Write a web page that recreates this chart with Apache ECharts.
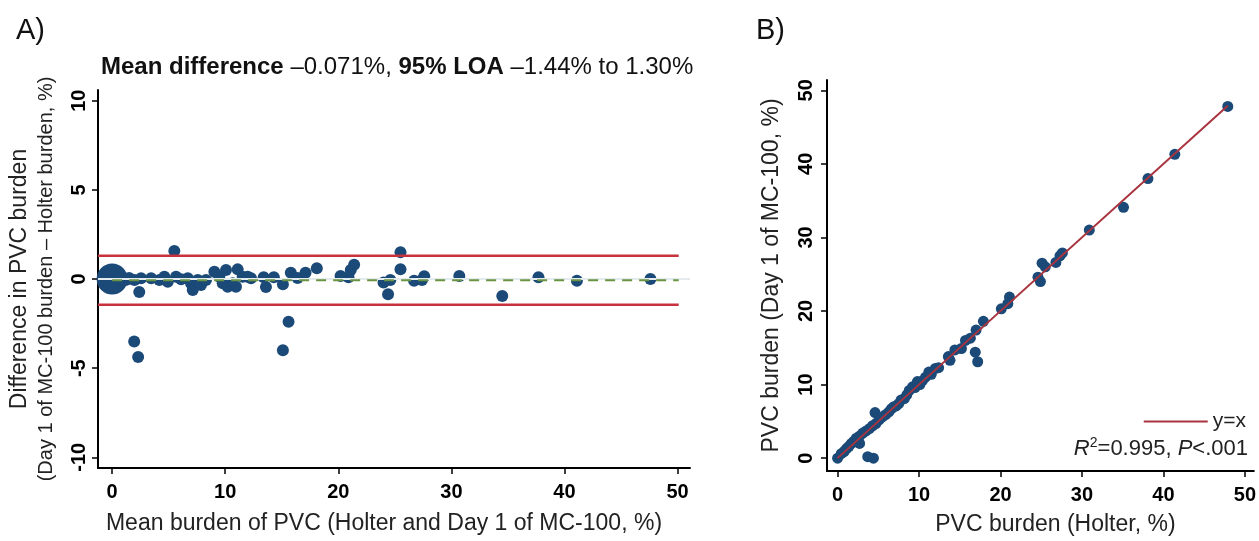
<!DOCTYPE html>
<html>
<head>
<meta charset="utf-8">
<script src="https://cdn.jsdelivr.net/npm/echarts@6/dist/echarts.min.js"></script>
<style>
html, body { margin: 0; padding: 0; background: #fff; }
#chart { width: 1259px; height: 541px; }
</style>
</head>
<body>
<div id="chart"></div>
<script>
// A) Bland-Altman: mean burden vs difference (%)
const baMean = [1.97, 2.56, 3.45, 4.18, 4.62, 4.92, 5.65, 6.1, 6.69, 6.98, 7.13, 7.57, 7.86, 8.3,
  9.04, 9.48, 9.78, 10.07, 10.22, 10.66, 10.95, 11.1, 11.54, 11.99, 12.28, 2.4, 5.5, 1.95, 2.3,
  13.4, 13.6, 14.3, 15.1, 15.1, 15.6, 15.8, 16.4, 17.1, 18.1, 20.2, 20.9, 21.1, 21.4, 24.0, 24.4,
  24.6, 25.5, 25.5, 26.7, 27.4, 27.6, 30.7, 34.5, 37.7, 41.1, 47.6, 0.6, 1.2, 1.5];
const baDiff = [-0.06, 0.04, 0.04, -0.06, 0.13, -0.15, 0.13, -0.02, 0.04, -0.24, -0.62, -0.06, -0.34, -0.06,
  0.41, 0.13, -0.24, 0.5, -0.43, -0.24, -0.43, 0.54, 0.13, 0.13, 0.04, -0.73, 1.57, -3.5, -4.37,
  0.1, -0.45, 0.1, -0.3, -4.0, -2.4, 0.35, 0.05, 0.35, 0.6, 0.17, 0.1, 0.5, 0.8, -0.2, -0.85,
  -0.05, 1.5, 0.55, -0.1, -0.05, 0.15, 0.17, -0.95, 0.1, -0.1, 0.0, 0.05, -0.05, 0.05];
// many patients with zero burden, drawn as one large marker
const zeroPile = [[0, 0]];
const meanDiff = -0.071;
const loaUpper = 1.30;
const loaLower = -1.44;
const loaSpan = [-1.25, 50.1];
const meanSpan = [0, 50.1];
const baXTicks = [0, 10, 20, 30, 40, 50];
const baYTicks = [-10, -5, 0, 5, 10];

// B) Holter vs Day 1 of MC-100 (%)
const holter = [0, 0.45, 0.8, 1.1, 1.4, 1.7, 2.0, 2.3, 2.7, 2.7, 3.1, 3.5, 3.9, 3.7, 4.4, 4.3, 4.7, 4.6,
  5.1, 5.5, 5.9, 6.3, 6.6, 6.9, 7.2, 7.5, 7.8, 8.2, 8.5, 8.8, 9.2, 9.5, 9.8, 10.1, 10.4, 10.8, 11.2,
  11.5, 12.0, 12.4, 13.6, 13.8, 14.4, 15.2, 15.7, 16.3, 16.9, 17.2, 17.0, 17.9, 20.1, 20.9, 21.1,
  24.6, 24.9, 25.1, 25.5, 26.8, 27.3, 27.6, 30.9, 35.1, 38.1, 41.4, 47.9];
const mc100 = [0, 0.6, 0.9, 1.3, 1.6, 2.0, 2.3, 2.7, 2.0, 3.0, 3.4, 3.7, 4.0, 0.2, 0.0, 4.4, 4.7, 6.2,
  5.2, 5.6, 5.9, 6.3, 6.7, 7.0, 7.1, 7.4, 7.9, 8.1, 8.6, 9.2, 9.7, 9.6, 10.4, 10.0, 10.5, 11.0, 11.7,
  11.4, 12.2, 12.3, 13.8, 13.3, 14.7, 14.9, 16.0, 16.3, 14.4, 13.1, 17.4, 18.6, 20.3, 21.0, 21.9,
  24.6, 24.0, 26.5, 26.0, 26.6, 27.5, 27.9, 31.0, 34.1, 38.0, 41.3, 47.8];
const identitySpan = [0, 47.9];
const scTicks = [0, 10, 20, 30, 40, 50];

const font = '"Liberation Sans", Arial, sans-serif';
const dotColor = '#1b4a78';

const baPoints = baMean.map((m, i) => [m, baDiff[i]]);
const scPoints = holter.map((h, i) => [h, mc100[i]]);

const axisLine = { show: true, onZero: false, lineStyle: { color: '#000', width: 2 } };
const tick = (vals) => ({ show: true, customValues: vals, length: 6, lineStyle: { color: '#000', width: 1.5 } });
const label = (vals, extra) => Object.assign({
  customValues: vals, color: '#000', fontSize: 20, fontWeight: 'bold', fontFamily: font
}, extra);

const chart = echarts.init(document.getElementById('chart'));
const option = {
  animation: false,
  textStyle: { fontFamily: font },
  title: [
    { text: 'A)', left: 11, top: 11, textStyle: { fontSize: 29, fontWeight: 'normal', color: '#111', fontFamily: font } },
    { text: 'B)', left: 751, top: 11, textStyle: { fontSize: 29, fontWeight: 'normal', color: '#111', fontFamily: font } },
    {
      text: '{b|Mean difference} –0.071%, {b|95% LOA} –1.44% to 1.30%',
      left: 96, top: 50,
      textStyle: {
        fontSize: 24, fontWeight: 'normal', color: '#111', fontFamily: font,
        rich: { b: { fontSize: 24, fontWeight: 'bold', color: '#111', fontFamily: font } }
      }
    }
  ],
  legend: {
    data: ['y=x'], right: 8, top: 406, icon: 'rect', itemWidth: 64, itemHeight: 2, itemGap: 8,
    textStyle: { fontSize: 21, color: '#222', fontFamily: font }
  },
  graphic: [{
    type: 'text', right: 11, top: 436,
    style: {
      text: '{i|R}{s|2}=0.995, {i|P}<.001',
      fontSize: 22, fill: '#222', fontFamily: font,
      rich: {
        i: { fontStyle: 'italic', fontSize: 22, fontFamily: font },
        s: { fontSize: 14, verticalAlign: 'top', lineHeight: 26, fontFamily: font }
      }
    }
  }],
  grid: [
    { left: 98, top: 90, width: 592, height: 378 },
    { left: 827, top: 80, width: 432, height: 391 }
  ],
  xAxis: [
    {
      type: 'value', gridIndex: 0, min: -1.25, max: 51.1,
      axisLine: axisLine, axisTick: tick(baXTicks), axisLabel: label(baXTicks, { margin: 14 }),
      splitLine: { show: false },
      name: 'Mean burden of PVC (Holter and Day 1 of MC-100, %)',
      nameLocation: 'middle', nameGap: 44,
      nameTextStyle: { fontSize: 23, color: '#222', fontFamily: font, padding: [0, 20, 0, 0] }
    },
    {
      type: 'value', gridIndex: 1, min: -1.3, max: 51.1,
      axisLine: axisLine, axisTick: tick(scTicks), axisLabel: label(scTicks, { margin: 14 }),
      splitLine: { show: false },
      name: 'PVC burden (Holter, %)',
      nameLocation: 'middle', nameGap: 42,
      nameTextStyle: { fontSize: 23, color: '#222', fontFamily: font, padding: [0, 0, 0, 30] }
    }
  ],
  yAxis: [
    {
      type: 'value', gridIndex: 0, min: -10.6, max: 10.6,
      axisLine: axisLine, axisTick: tick(baYTicks), axisLabel: label(baYTicks, { rotate: 90, margin: 9 }),
      splitLine: { show: false },
      name: '{a|Difference in PVC burden}\n{b|(Day 1 of MC-100 burden – Holter burden, %)}',
      nameLocation: 'middle', nameGap: 38,
      nameTextStyle: {
        color: '#222', fontFamily: font,
        rich: {
          a: { fontSize: 23, lineHeight: 27, color: '#222', fontFamily: font },
          b: { fontSize: 20, lineHeight: 27, color: '#222', fontFamily: font }
        }
      }
    },
    {
      type: 'value', gridIndex: 1, min: -1.75, max: 51.4,
      axisLine: axisLine, axisTick: tick(scTicks), axisLabel: label(scTicks, { rotate: 90, margin: 11 }),
      splitLine: { show: false },
      name: 'PVC burden (Day 1 of MC-100, %)',
      nameLocation: 'middle', nameGap: 44,
      nameTextStyle: { fontSize: 23, color: '#222', fontFamily: font }
    }
  ],
  series: [
    {
      name: 'zero', type: 'line', xAxisIndex: 0, yAxisIndex: 0, data: [], symbol: 'none',
      markLine: {
        silent: true, symbol: 'none', label: { show: false },
        lineStyle: { color: '#e3ebee', width: 2, type: 'solid' },
        data: [{ yAxis: 0 }]
      }
    },
    {
      name: 'LOA upper', type: 'line', xAxisIndex: 0, yAxisIndex: 0, symbol: 'none', silent: true,
      data: loaSpan.map(x => [x, loaUpper]),
      lineStyle: { color: '#c8323d', width: 2.5 }
    },
    {
      name: 'LOA lower', type: 'line', xAxisIndex: 0, yAxisIndex: 0, symbol: 'none', silent: true,
      data: loaSpan.map(x => [x, loaLower]),
      lineStyle: { color: '#c8323d', width: 2.5 }
    },
    {
      name: 'zero pile', type: 'scatter', xAxisIndex: 0, yAxisIndex: 0,
      data: zeroPile, symbolSize: 31, itemStyle: { color: dotColor, opacity: 1 }
    },
    {
      name: 'BA', type: 'scatter', xAxisIndex: 0, yAxisIndex: 0,
      data: baPoints, symbolSize: 12, itemStyle: { color: dotColor, opacity: 1 }
    },
    {
      name: 'mean', type: 'line', xAxisIndex: 0, yAxisIndex: 0, symbol: 'none', silent: true, z: 5,
      data: meanSpan.map(x => [x, meanDiff]),
      lineStyle: { color: '#6a9442', width: 2.2, type: [10, 7] }
    },
    {
      name: 'points', type: 'scatter', xAxisIndex: 1, yAxisIndex: 1,
      data: scPoints, symbolSize: 11, itemStyle: { color: dotColor, opacity: 1 }
    },
    {
      name: 'y=x', type: 'line', xAxisIndex: 1, yAxisIndex: 1, symbol: 'none', z: 5,
      data: identitySpan.map(x => [x, x]),
      color: '#a9343f',
      lineStyle: { color: '#a9343f', width: 2 }
    }
  ]
};
chart.setOption(option);
</script>
</body>
</html>
